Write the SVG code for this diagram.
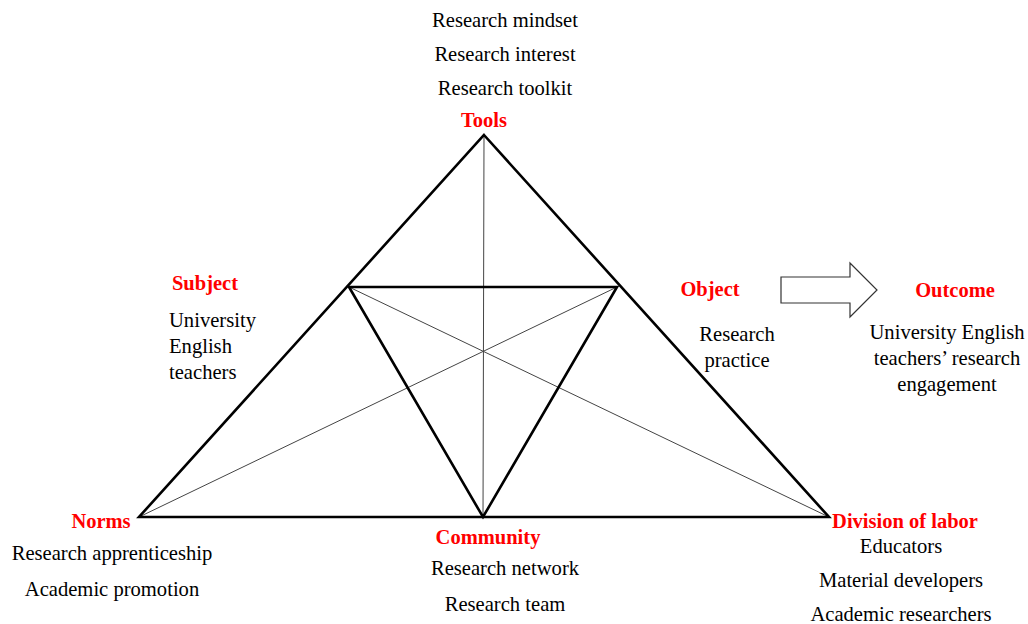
<svg xmlns="http://www.w3.org/2000/svg" width="1028" height="624" viewBox="0 0 1028 624">
  <style>
    .lbl { font-family: "Liberation Serif", "Times New Roman", serif; font-size: 20.5px; font-weight: bold; fill: #ff0000; text-anchor: middle; }
    .txt { font-family: "Liberation Serif", "Times New Roman", serif; font-size: 20.6px; fill: #000000; text-anchor: middle; }
    .left { text-anchor: start; }
    .thick { fill: none; stroke: #000000; stroke-width: 2.6; stroke-linejoin: miter; }
    .thin { fill: none; stroke: #444444; stroke-width: 1; }
  </style>
  <rect width="1028" height="624" fill="#ffffff"/>

  <g id="connectors">
    <!-- medians through the centre -->
    <line class="thin" x1="484" y1="135" x2="483" y2="517"/>
    <line class="thin" x1="139" y1="517" x2="617" y2="287"/>
    <line class="thin" x1="829" y1="517" x2="349" y2="287"/>
    <!-- outer triangle -->
    <polygon class="thick" points="484,135 829,517 139,517"/>
    <!-- inner triangle -->
    <polygon class="thick" points="349,287 617,287 483,517"/>
    <!-- block arrow towards the outcome -->
    <polygon points="781,277 850,277 850,263 877,290 850,317 850,303 781,303" fill="#ffffff" stroke="#333333" stroke-width="1.2"/>
  </g>

  <g id="tools">
    <text class="txt" x="505" y="27">Research mindset</text>
    <text class="txt" x="505" y="61">Research interest</text>
    <text class="txt" x="505" y="95">Research toolkit</text>
    <text class="lbl" x="484" y="127">Tools</text>
  </g>

  <g id="subject">
    <text class="lbl" x="205" y="290">Subject</text>
    <text class="txt left" x="169" y="327">University</text>
    <text class="txt left" x="169" y="353">English</text>
    <text class="txt left" x="169" y="379">teachers</text>
  </g>

  <g id="object">
    <text class="lbl" x="710" y="296">Object</text>
    <text class="txt" x="737" y="341">Research</text>
    <text class="txt" x="737" y="367">practice</text>
  </g>

  <g id="outcome">
    <text class="lbl" x="955" y="297">Outcome</text>
    <text class="txt" x="947" y="339">University English</text>
    <text class="txt" x="947" y="365">teachers’ research</text>
    <text class="txt" x="947" y="391">engagement</text>
  </g>

  <g id="norms">
    <text class="lbl" x="101" y="528">Norms</text>
    <text class="txt" x="112" y="560">Research apprenticeship</text>
    <text class="txt" x="112" y="596">Academic promotion</text>
  </g>

  <g id="community">
    <text class="lbl" x="488" y="544">Community</text>
    <text class="txt" x="505" y="575">Research network</text>
    <text class="txt" x="505" y="611">Research team</text>
  </g>

  <g id="division">
    <text class="lbl" x="905" y="528">Division of labor</text>
    <text class="txt" x="901" y="553">Educators</text>
    <text class="txt" x="901" y="587">Material developers</text>
    <text class="txt" x="901" y="621">Academic researchers</text>
  </g>
</svg>
